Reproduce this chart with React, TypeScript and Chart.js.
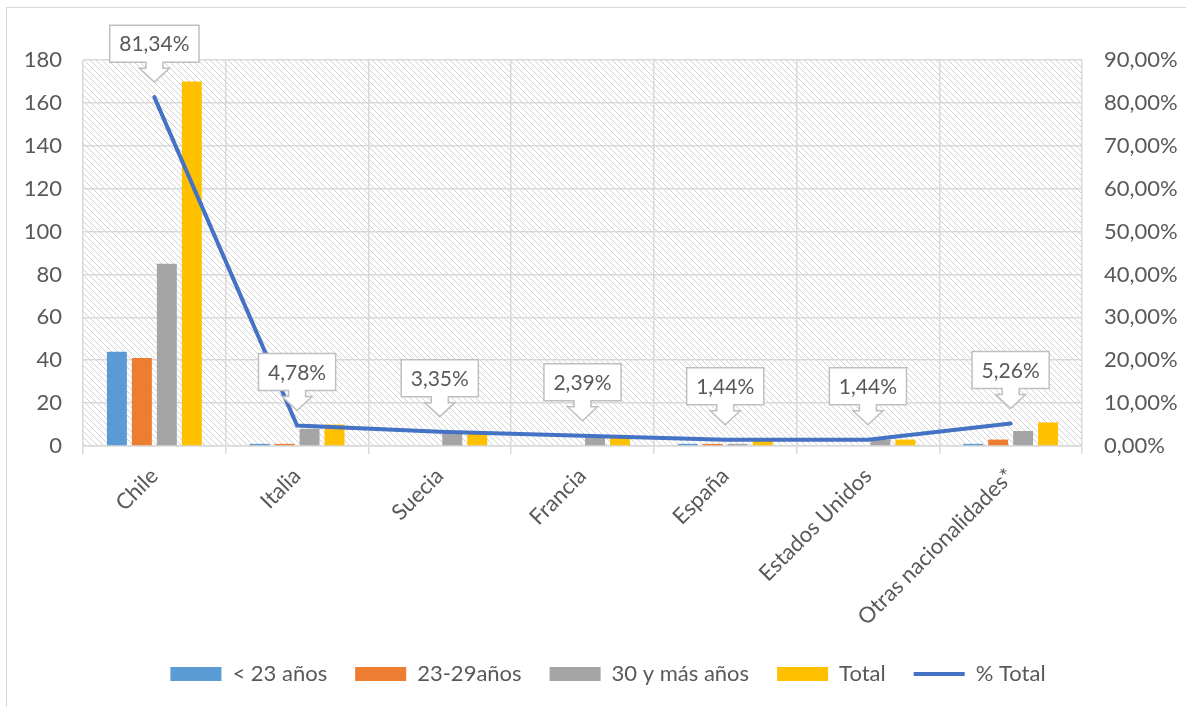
import React, { useEffect, useRef } from 'react';
import { Chart, registerables } from 'chart.js';

Chart.register(...registerables);

const categories = ['Chile', 'Italia', 'Suecia', 'Francia', 'España', 'Estados Unidos', 'Otras nacionalidades*'];
const under23 = [44, 1, 0, 0, 1, 0, 1];
const age23to29 = [41, 1, 0, 0, 1, 0, 3];
const age30plus = [85, 8, 7, 5, 1, 3, 7];
const totals = [170, 10, 7, 5, 3, 3, 11];
const pctTotal = [81.34, 4.78, 3.35, 2.39, 1.44, 1.44, 5.26];
const seriesNames = ['< 23 años', '23-29años', '30 y más años', 'Total', '% Total'];
const leftMax = 180;
const leftStep = 20;
const rightMax = 90;
const rightStep = 10;

const FONT = 'Lato';
const TEXT = '#595959';
const GRID = '#D9D9D9';

const fmtPct = (v: number) => v.toFixed(2).replace('.', ',') + '%';

function makeHatch(): CanvasPattern | string {
  const pc = document.createElement('canvas');
  pc.width = 6;
  pc.height = 6;
  const p = pc.getContext('2d');
  if (!p) return '#fff';
  p.fillStyle = '#ffffff';
  p.fillRect(0, 0, 6, 6);
  p.strokeStyle = '#D2D2D2';
  p.lineWidth = 1;
  p.beginPath();
  p.moveTo(0, 0);
  p.lineTo(6, 6);
  p.moveTo(-1, 5);
  p.lineTo(1, 7);
  p.moveTo(5, -1);
  p.lineTo(7, 1);
  p.stroke();
  const pat = p.createPattern(pc, 'repeat');
  return pat || '#fff';
}

const hatchPlugin = {
  id: 'hatchBg',
  beforeDraw(chart: any) {
    const { ctx, chartArea } = chart;
    if (!chartArea) return;
    ctx.save();
    ctx.fillStyle = makeHatch();
    ctx.fillRect(chartArea.left, chartArea.top, chartArea.right - chartArea.left, chartArea.bottom - chartArea.top);
    ctx.restore();
  },
};

const legendShiftPlugin = {
  id: 'legendShift',
  afterLayout(chart: any) {
    const lg = chart.legend;
    if (lg) {
      lg.left += 15;
      lg.right += 15;
    }
  },
};

const calloutPlugin = {
  id: 'callouts',
  afterDatasetsDraw(chart: any) {
    const idx = 4;
    const meta = chart.getDatasetMeta(idx);
    const data = chart.data.datasets[idx].data as number[];
    const ctx = chart.ctx as CanvasRenderingContext2D;
    ctx.save();
    ctx.font = `21px ${FONT}`;
    meta.data.forEach((pt: any, i: number) => {
      const text = fmtPct(data[i]);
      const tw = ctx.measureText(text).width;
      const w = tw + 19;
      const h = 37;
      const cx = pt.x;
      const tipY = pt.y - 15;
      const headTop = tipY - 14;
      const boxBottom = headTop - 6;
      const boxTop = boxBottom - h;
      const left = cx - w / 2;
      const right = cx + w / 2;
      ctx.beginPath();
      ctx.moveTo(left, boxTop);
      ctx.lineTo(right, boxTop);
      ctx.lineTo(right, boxBottom);
      ctx.lineTo(cx + 8.5, boxBottom);
      ctx.lineTo(cx + 8.5, headTop);
      ctx.lineTo(cx + 15, headTop);
      ctx.lineTo(cx, tipY);
      ctx.lineTo(cx - 15, headTop);
      ctx.lineTo(cx - 8.5, headTop);
      ctx.lineTo(cx - 8.5, boxBottom);
      ctx.lineTo(left, boxBottom);
      ctx.closePath();
      ctx.fillStyle = '#ffffff';
      ctx.fill();
      ctx.strokeStyle = '#BFBFBF';
      ctx.lineWidth = 1.5;
      ctx.stroke();
      ctx.fillStyle = TEXT;
      ctx.textAlign = 'center';
      ctx.textBaseline = 'middle';
      ctx.fillText(text, cx, (boxTop + boxBottom) / 2 + 1);
    });
    ctx.restore();
  },
};

export default function App() {
  const ref = useRef<HTMLCanvasElement | null>(null);

  useEffect(() => {
    let chart: Chart | null = null;
    let cancelled = false;
    const build = () => {
      if (cancelled || !ref.current) return;
      const barCommon = {
        type: 'bar' as const,
        yAxisID: 'y',
        categoryPercentage: 0.7,
        barPercentage: 0.8,
        borderWidth: 0,
        pointStyle: 'rect',
        order: 1,
      };
      chart = new Chart(ref.current, {
        type: 'bar',
        data: {
          labels: categories,
          datasets: [
            { ...barCommon, label: seriesNames[0], data: under23, backgroundColor: '#5B9BD5' },
            { ...barCommon, label: seriesNames[1], data: age23to29, backgroundColor: '#ED7D31' },
            { ...barCommon, label: seriesNames[2], data: age30plus, backgroundColor: '#A5A5A5' },
            { ...barCommon, label: seriesNames[3], data: totals, backgroundColor: '#FFC000' },
            {
              type: 'line',
              label: seriesNames[4],
              data: pctTotal,
              yAxisID: 'y1',
              borderColor: '#4472C4',
              backgroundColor: '#4472C4',
              borderWidth: 4,
              pointRadius: 0,
              pointStyle: 'line',
              tension: 0,
              borderCapStyle: 'round',
              order: 0,
            } as any,
          ],
        },
        options: {
          animation: false,
          responsive: false,
          maintainAspectRatio: false,
          layout: { padding: { top: 60, left: 0, right: 0, bottom: 12 } },
          plugins: {
            title: { display: false },
            tooltip: { enabled: false },
            legend: {
              display: true,
              position: 'bottom',
              labels: {
                usePointStyle: true,
                pointStyleWidth: 51,
                boxHeight: 14,
                padding: 28,
                color: TEXT,
                font: { family: FONT, size: 22 },
                sort: (a: any, b: any) => a.datasetIndex - b.datasetIndex,
              },
            },
          },
          scales: {
            x: {
              offset: true,
              grid: { display: true, offset: true, color: GRID, lineWidth: 1.5, tickLength: 8, drawTicks: true, tickColor: GRID },
              border: { display: true, color: GRID, width: 1.5 },
              ticks: {
                color: TEXT,
                font: { family: FONT, size: 22 },
                maxRotation: 45,
                minRotation: 45,
                autoSkip: false,
                padding: 9,
              },
              afterFit: (s: any) => {
                s.height = 189;
              },
            },
            y: {
              position: 'left',
              min: 0,
              max: leftMax,
              grid: { color: GRID, lineWidth: 1.5, drawTicks: false },
              border: { display: false },
              ticks: {
                stepSize: leftStep,
                color: TEXT,
                font: { family: FONT, size: 22 },
                padding: 21,
              },
              afterFit: (s: any) => {
                s.width = 83;
              },
            },
            y1: {
              position: 'right',
              min: 0,
              max: rightMax,
              grid: { display: false, drawTicks: false },
              border: { display: false },
              ticks: {
                stepSize: rightStep,
                color: TEXT,
                font: { family: FONT, size: 22 },
                padding: 22,
                callback: (v: any) => fmtPct(Number(v)),
              },
              afterFit: (s: any) => {
                s.width = 104;
              },
            },
          },
        },
        plugins: [hatchPlugin, legendShiftPlugin, calloutPlugin],
      } as any);
    };
    const fontsReady = (document as any).fonts?.load
      ? Promise.all([(document as any).fonts.load(`21px ${FONT}`)]).catch(() => null)
      : Promise.resolve(null);
    fontsReady.then(build);
    return () => {
      cancelled = true;
      if (chart) chart.destroy();
    };
  }, []);

  return (
    <div style={{ position: 'fixed', left: 0, top: 0, width: 1186, height: 707, background: '#ffffff', overflow: 'hidden' }}>
      <div
        style={{
          position: 'absolute',
          left: 6,
          top: 7,
          width: 1300,
          height: 800,
          border: '1.5px solid #D9D9D9',
          boxSizing: 'border-box',
        }}
      />
      <canvas
        ref={ref}
        width={1186}
        height={707}
        style={{ position: 'absolute', left: 0, top: 0, width: 1186, height: 707 }}
      />
    </div>
  );
}
